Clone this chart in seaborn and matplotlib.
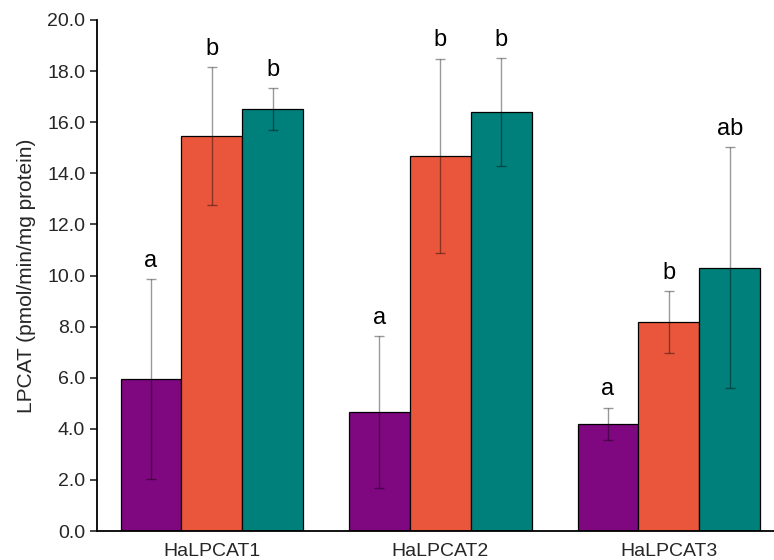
import pandas as pd
import seaborn as sns
import matplotlib.pyplot as plt
from matplotlib.ticker import FormatStrFormatter

GENES = ['HaLPCAT1', 'HaLPCAT2', 'HaLPCAT3']
TREATMENTS = ['T1', 'T2', 'T3']
MEANS = {
    'T1': [5.95, 4.65, 4.20],
    'T2': [15.45, 14.68, 8.18],
    'T3': [16.50, 16.40, 10.30],
}
ERRORS = {
    'T1': [3.90, 2.97, 0.63],
    'T2': [2.70, 3.80, 1.20],
    'T3': [0.82, 2.10, 4.72],
}
LETTERS = {
    'T1': ['a', 'a', 'a'],
    'T2': ['b', 'b', 'b'],
    'T3': ['b', 'b', 'ab'],
}
COLORS = ['#7f077f', '#e9563b', '#00807b']


def get_data():
    rows = []
    for t in TREATMENTS:
        for g, m, e, l in zip(GENES, MEANS[t], ERRORS[t], LETTERS[t]):
            rows.append({'Gene': g, 'Treatment': t, 'Mean': m, 'SD': e, 'Letter': l})
    return pd.DataFrame(rows)


def main():
    df = get_data()
    sns.set_theme(style='ticks')
    plt.rcParams['font.family'] = ['Liberation Sans', 'DejaVu Sans']

    fig = plt.figure(figsize=(7.74, 5.6), dpi=100)
    ax = fig.add_axes([97 / 774, 29 / 560, 1 - 97 / 774, 511 / 560])

    sns.barplot(data=df, x='Gene', y='Mean', hue='Treatment', order=GENES,
                hue_order=TREATMENTS, palette=COLORS, width=0.8, errorbar=None,
                edgecolor='black', linewidth=0.9, saturation=1, legend=False, ax=ax)

    # patches are ordered by hue, then by gene
    bars = [p for p in ax.patches if p.get_height() > 0]
    for bar, (_, row) in zip(bars, df.iterrows()):
        cx = bar.get_x() + bar.get_width() / 2
        ax.errorbar(cx, row['Mean'], yerr=row['SD'], color='black', alpha=0.4,
                    elinewidth=1.0, capsize=3.5, capthick=1.0)
        ax.text(cx, row['Mean'] + row['SD'] + 0.3, row['Letter'], ha='center',
                va='bottom', fontsize=17, color='black')

    ax.set_ylim(0, 20)
    ax.set_xlim(-0.503, 2.46)
    ax.set_yticks(range(0, 21, 2))
    ax.yaxis.set_major_formatter(FormatStrFormatter('%.1f'))
    ax.tick_params(axis='y', length=5, width=1.2, labelsize=14, direction='out')
    ax.tick_params(axis='x', length=0, labelsize=14, pad=9)
    ax.set_xlabel('')
    ax.set_ylabel('LPCAT (pmol/min/mg protein)', fontsize=15, labelpad=8)
    for side in ['top', 'right']:
        ax.spines[side].set_visible(False)
    for side in ['left', 'bottom']:
        ax.spines[side].set_linewidth(1.3)
        ax.spines[side].set_color('black')

    fig.savefig('out.png', dpi=100)


if __name__ == '__main__':
    main()
